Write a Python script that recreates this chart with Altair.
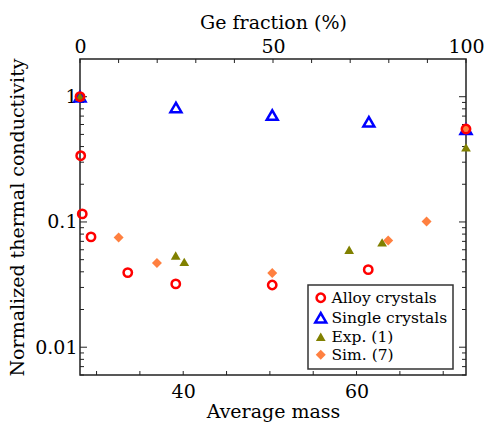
import altair as alt
import pandas as pd

# ---- data ----
alloy_mass = [28.09, 28.17, 28.35, 29.36, 33.6, 39.14, 50.27, 61.35, 72.63]
alloy_k = [1.0, 0.338, 0.116, 0.076, 0.0394, 0.032, 0.0314, 0.0416, 0.552]

single_mass = [28.09, 39.16, 50.27, 61.42, 72.63]
single_k = [1.0, 0.82, 0.714, 0.63, 0.55]

exp_mass = [28.09, 39.13, 40.12, 59.15, 62.95, 72.63]
exp_k = [1.0, 0.054, 0.048, 0.060, 0.0687, 0.394]

sim_mass = [32.55, 36.97, 50.27, 63.65, 68.08, 72.63]
sim_k = [0.0753, 0.0471, 0.0392, 0.071, 0.101, 0.56]

series_names = ["Alloy crystals", "Single crystals", "Exp. (1)", "Sim. (7)"]

# axis tick values
x_ticks = [30, 35, 40, 45, 50, 55, 60, 65, 70]
x_labels = [40, 60]
y_major = [0.01, 0.1, 1]
y_minor = [0.006, 0.007, 0.008, 0.009,
           0.02, 0.03, 0.04, 0.05, 0.06, 0.07, 0.08, 0.09,
           0.2, 0.3, 0.4, 0.5, 0.6, 0.7, 0.8, 0.9]
ge_ticks = [0, 10, 20, 30, 40, 50, 60, 70, 80, 90, 100]

rows = []
for m, k in zip(single_mass, single_k):
    rows.append({"mass": m, "k": k, "series": "Single crystals"})
for m, k in zip(exp_mass, exp_k):
    rows.append({"mass": m, "k": k, "series": "Exp. (1)"})
for m, k in zip(sim_mass, sim_k):
    rows.append({"mass": m, "k": k, "series": "Sim. (7)"})
for m, k in zip(alloy_mass, alloy_k):
    rows.append({"mass": m, "k": k, "series": "Alloy crystals"})
df = pd.DataFrame(rows)

W, H = 386, 316
FONT = "DejaVu Serif"
LBL = 19
TTL = 19

def xscale():
    return alt.Scale(domain=[28.09, 72.63], nice=False, zero=False)

yscale = alt.Scale(type="log", domain=[0.006, 2], nice=False)

def y_axis():
    return alt.Axis(values=y_major, format="~g", title="Normalized thermal conductivity",
                    orient="left", ticks=False, tickSize=0, domain=False, grid=False,
                    labelPadding=3, titlePadding=7, labelFlush=False)

points = alt.Chart(df).mark_point(filled=False, opacity=1, clip=False).encode(
    x=alt.X("mass:Q", scale=xscale(),
            axis=alt.Axis(values=x_labels, title="Average mass", orient="bottom",
                          ticks=False, tickSize=0,
                          domain=False, grid=False, labelPadding=7, titlePadding=1,
                          labelFlush=False)),
    y=alt.Y("k:Q", scale=yscale, axis=y_axis()),
    shape=alt.Shape("series:N", scale=alt.Scale(domain=series_names,
                    range=["circle", "triangle-up", "triangle-up", "diamond"]), title=None),
    stroke=alt.Stroke("series:N", scale=alt.Scale(domain=series_names,
                      range=["#ff0000", "#0000ff", "#808000", "#ff8040"]), title=None),
    fill=alt.Fill("series:N", scale=alt.Scale(domain=series_names,
                  range=["transparent", "transparent", "#808000", "#ff8040"]), title=None),
    size=alt.Size("series:N", scale=alt.Scale(type="ordinal", domain=series_names,
                  range=[70, 120, 95, 100]), title=None),
    strokeWidth=alt.StrokeWidth("series:N", scale=alt.Scale(type="ordinal", domain=series_names,
                  range=[2.5, 2.5, 0, 0]), title=None),
    order=alt.Order("idx:Q"),
).transform_window(idx="row_number()")

ymaj_df = pd.DataFrame({"v": y_major})
ymin_df = pd.DataFrame({"v": y_minor})
xt_df = pd.DataFrame({"m": x_ticks})

def yrule(d, x0, x1):
    return alt.Chart(d).mark_rule(color="#222", strokeWidth=1).encode(
        y=alt.Y("v:Q", scale=yscale, axis=y_axis()),
        x=alt.value(x0), x2=alt.value(x1))

left_major = yrule(ymaj_df, 0, 7)
left_minor = yrule(ymin_df, 0, 4)
right_major = yrule(ymaj_df, W - 7, W)
right_minor = yrule(ymin_df, W - 4, W)
bottom_ticks = alt.Chart(xt_df).mark_rule(color="#222", strokeWidth=1).encode(
    x=alt.X("m:Q", scale=xscale(),
            axis=alt.Axis(orient="bottom", labels=False, ticks=False, domain=False,
                          grid=False, title="", tickSize=0)),
    y=alt.value(H), y2=alt.value(H - 4))

ge_df = pd.DataFrame({"g": ge_ticks})
top = alt.Chart(ge_df).mark_rule(color="#222", strokeWidth=1).encode(
    x=alt.X("g:Q", scale=alt.Scale(domain=[0, 100], nice=False, zero=False),
            axis=alt.Axis(orient="top", values=ge_ticks, title="Ge fraction (%)",
                          labelExpr="datum.value % 50 == 0 ? datum.label : ''",
                          ticks=False, tickSize=0, domain=False, grid=False,
                          labelPadding=3, titlePadding=5, labelFlush=False)),
    y=alt.value(0), y2=alt.value(4))

chart = alt.layer(left_major, left_minor, right_major, right_minor, bottom_ticks,
                  points, top).resolve_scale(x="independent").properties(
    width=W, height=H,
    autosize=alt.AutoSizeParams(type="none"),
    padding={"left": 80, "top": 59, "right": 24, "bottom": 52},
    background="white",
).configure_view(
    stroke="#222", strokeWidth=1.5
).configure_axis(
    labelFont=FONT, titleFont=FONT,
    labelFontSize=LBL, titleFontSize=TTL,
    labelColor="black", titleColor="black", titleFontWeight="normal",
).configure_legend(
    orient="none", legendX=228, legendY=226,
    strokeColor="#333", strokeWidth=1.5, fillColor="white",
    padding=5, rowPadding=1, labelFont=FONT, labelFontSize=15.5, labelColor="black",
    labelOffset=3, symbolStrokeWidth=2.5,
)

chart.save("out.html", embed_options={"renderer": "svg", "actions": False})
